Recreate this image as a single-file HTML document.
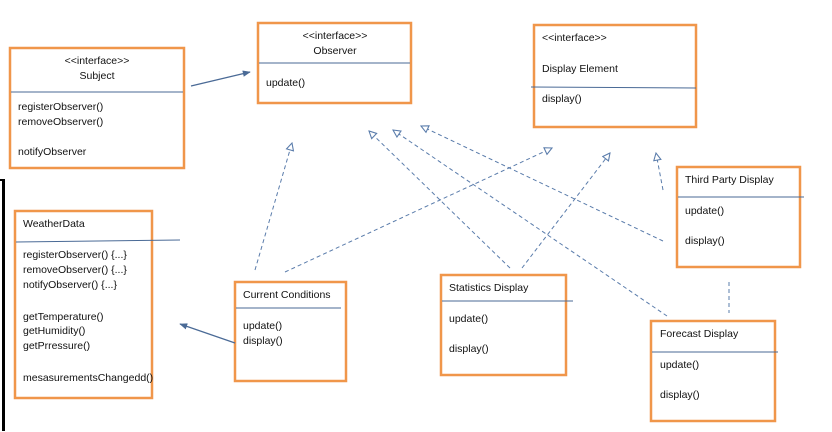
<!DOCTYPE html>
<html><head><style>
html,body{margin:0;padding:0;background:#fff;}
svg{display:block;}
text{font-family:"Liberation Sans",sans-serif;font-size:10.5px;fill:#111;}
.b{fill:#fff;stroke:#f0964a;stroke-width:2.5;}
.d{stroke:#4a6a96;stroke-width:1;}
.dash{stroke:#5a7cab;stroke-width:1;stroke-dasharray:4,3;fill:none;}
.sol{stroke:#4a6a96;stroke-width:1.2;fill:none;}
</style></head><body>
<svg width="832" height="432" viewBox="0 0 832 432">
<defs>
<marker id="tri" viewBox="0 0 10 10" refX="9" refY="5" markerWidth="9" markerHeight="9" orient="auto" markerUnits="userSpaceOnUse">
<path d="M1,1 L9,5 L1,9 Z" fill="#fff" stroke="#5a7cab" stroke-width="1.2"/>
</marker>
<marker id="arr" viewBox="0 0 10 10" refX="9" refY="5" markerWidth="8" markerHeight="8" orient="auto" markerUnits="userSpaceOnUse">
<path d="M0,1 L10,5 L0,9 Z" fill="#4a6a96"/>
</marker>
</defs>
<rect x="2" y="179" width="3" height="252" fill="#000"/>
<rect x="0" y="179" width="5" height="2" fill="#000"/>

<!-- Subject -->
<rect class="b" x="10" y="48" width="174" height="120"/>
<line class="d" x1="11" y1="92" x2="183" y2="92"/>
<text x="97" y="64" text-anchor="middle">&lt;&lt;interface&gt;&gt;</text>
<text x="97" y="79" text-anchor="middle">Subject</text>
<text x="18" y="110">registerObserver()</text>
<text x="18" y="125">removeObserver()</text>
<text x="18" y="155">notifyObserver</text>

<!-- Observer -->
<rect class="b" x="258" y="23" width="153" height="80"/>
<line class="d" x1="259" y1="63" x2="410" y2="63"/>
<text x="335" y="39" text-anchor="middle">&lt;&lt;interface&gt;&gt;</text>
<text x="335" y="54" text-anchor="middle">Observer</text>
<text x="266" y="86">update()</text>

<!-- Display Element -->
<rect class="b" x="534" y="25" width="162" height="102"/>
<line class="d" x1="531" y1="87" x2="696" y2="88"/>
<text x="542" y="41">&lt;&lt;interface&gt;&gt;</text>
<text x="542" y="72">Display Element</text>
<text x="542" y="102">display()</text>

<!-- Third Party -->
<rect class="b" x="677" y="167" width="123" height="100"/>
<line class="d" x1="678" y1="197" x2="804" y2="197"/>
<text x="685" y="183">Third Party Display</text>
<text x="685" y="214">update()</text>
<text x="685" y="244">display()</text>

<!-- WeatherData -->
<rect class="b" x="15" y="211" width="137" height="187"/>
<line class="d" x1="16" y1="242" x2="180" y2="240"/>
<text x="23" y="227">WeatherData</text>
<text x="23" y="258">registerObserver() {...}</text>
<text x="23" y="273">removeObserver() {...}</text>
<text x="23" y="288">notifyObserver() {...}</text>
<text x="23" y="320">getTemperature()</text>
<text x="23" y="334">getHumidity()</text>
<text x="23" y="349">getPrressure()</text>
<text x="23" y="381">mesasurementsChangedd()</text>

<!-- Current Conditions -->
<rect class="b" x="235" y="282" width="111" height="99"/>
<line class="d" x1="236" y1="308" x2="341" y2="308"/>
<text x="243" y="298">Current Conditions</text>
<text x="243" y="329">update()</text>
<text x="243" y="344">display()</text>

<!-- Statistics -->
<rect class="b" x="441" y="275" width="125" height="100"/>
<line class="d" x1="442" y1="301" x2="573" y2="301"/>
<text x="449" y="291">Statistics Display</text>
<text x="449" y="322">update()</text>
<text x="449" y="352">display()</text>

<!-- Forecast -->
<rect class="b" x="651" y="321" width="124" height="100"/>
<line class="d" x1="652" y1="352" x2="778" y2="352"/>
<text x="660" y="337">Forecast Display</text>
<text x="660" y="368">update()</text>
<text x="660" y="398">display()</text>

<!-- solid arrows -->
<line class="sol" x1="191" y1="86" x2="250" y2="72" marker-end="url(#arr)"/>
<line class="sol" x1="235" y1="343" x2="180" y2="324" marker-end="url(#arr)"/>

<!-- dashed realizations -->
<line class="dash" x1="255" y1="270" x2="292" y2="143" marker-end="url(#tri)"/>
<line class="dash" x1="285" y1="272" x2="552" y2="148" marker-end="url(#tri)"/>
<line class="dash" x1="510" y1="268" x2="369" y2="131" marker-end="url(#tri)"/>
<line class="dash" x1="522" y1="268" x2="610" y2="153" marker-end="url(#tri)"/>
<line class="dash" x1="663" y1="241" x2="421" y2="126" marker-end="url(#tri)"/>
<line class="dash" x1="667" y1="316" x2="393" y2="130" marker-end="url(#tri)"/>
<line class="dash" x1="663" y1="190" x2="656" y2="153" marker-end="url(#tri)"/>
<line class="dash" x1="729" y1="282" x2="729" y2="313"/>
</svg>
</body></html>
